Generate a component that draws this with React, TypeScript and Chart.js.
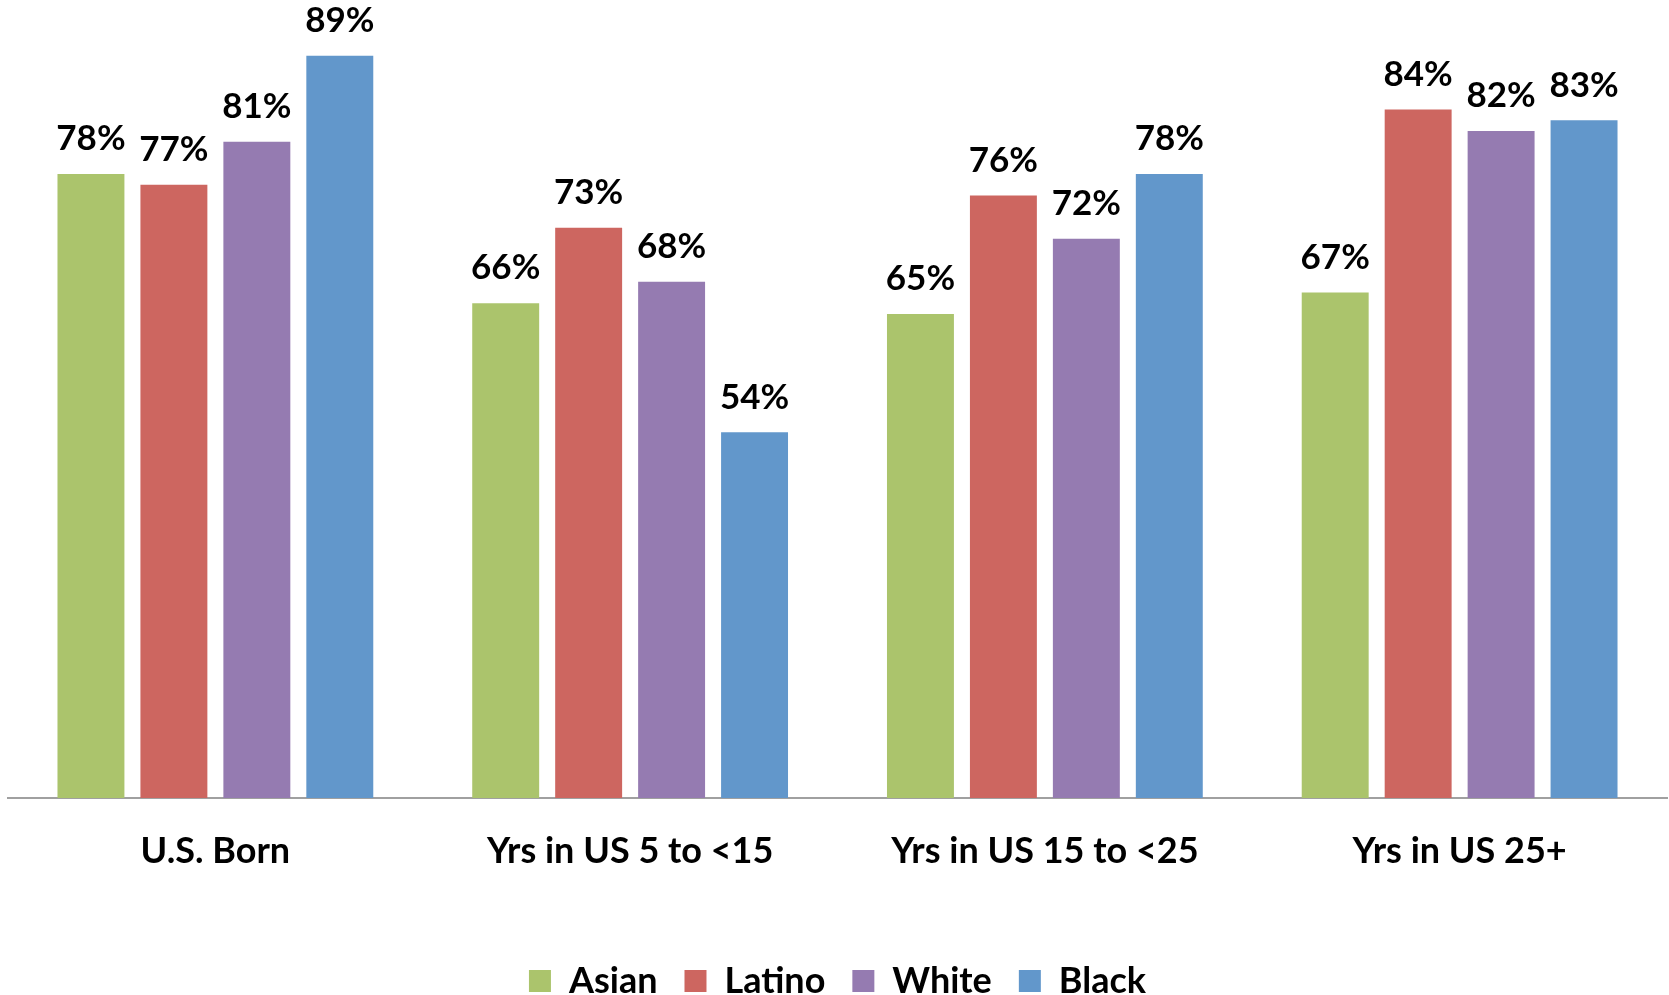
import React, { useEffect, useRef } from "react";
import { Chart, registerables } from "chart.js";

Chart.register(...registerables);

const categories = ["U.S. Born", "Yrs in US 5 to <15", "Yrs in US 15 to <25", "Yrs in US 25+"];
const seriesNames = ["Asian", "Latino", "White", "Black"];
const asian = [78, 66, 65, 67];
const latino = [77, 73, 76, 84];
const white = [81, 68, 72, 82];
const black = [89, 54, 78, 83];
const colors = ["#ABC46C", "#CD6660", "#957BB1", "#6297CB"];

const FONT = "Lato, 'Open Sans', 'Liberation Sans', sans-serif";

const valueLabels = {
  id: "valueLabels",
  afterDatasetsDraw(chart: any) {
    const ctx = chart.ctx;
    ctx.save();
    ctx.font = `bold 35px ${FONT}`;
    ctx.fillStyle = "#000";
    ctx.textAlign = "center";
    ctx.textBaseline = "middle";
    chart.data.datasets.forEach((ds: any, i: number) => {
      const meta = chart.getDatasetMeta(i);
      meta.data.forEach((bar: any, j: number) => {
        ctx.fillText(`${ds.data[j]}%`, bar.x, bar.y - 35);
      });
    });
    ctx.restore();
  },
};

export default function App() {
  const ref = useRef<HTMLCanvasElement>(null);
  useEffect(() => {
    if (!ref.current) return;
    const seriesData = [asian, latino, white, black];
    const chart = new Chart(ref.current, {
      type: "bar",
      data: {
        labels: categories,
        datasets: seriesNames.map((name, i) => ({
          label: name,
          data: seriesData[i],
          backgroundColor: colors[i],
          borderWidth: 0,
          categoryPercentage: 0.8,
          barPercentage: 0.807,
        })),
      },
      options: {
        animation: false,
        responsive: true,
        maintainAspectRatio: false,
        layout: { padding: { left: 8, right: 2, top: 45, bottom: -14 } },
        plugins: {
          legend: {
            position: "bottom",
            labels: {
              boxWidth: 22,
              boxHeight: 22,
              padding: 27,
              color: "#000",
              font: { family: FONT, size: 36, weight: "bold" },
            },
          },
          tooltip: { enabled: false },
        },
        scales: {
          x: {
            grid: { display: false, drawTicks: false },
            border: { display: true, color: "#a0a0a0", width: 2 },
            ticks: {
              color: "#000",
              padding: 32,
              font: { family: FONT, size: 36, weight: "bold" },
            },
            afterFit: (scale: any) => {
              scale.height = 138;
            },
          },
          y: {
            display: false,
            min: 20,
            max: 90,
          },
        },
      },
      plugins: [valueLabels],
    });
    return () => chart.destroy();
  }, []);
  return (
    <div style={{ position: "absolute", left: 0, top: 0, width: 1669, height: 995, background: "#fff" }}>
      <canvas ref={ref} />
    </div>
  );
}
